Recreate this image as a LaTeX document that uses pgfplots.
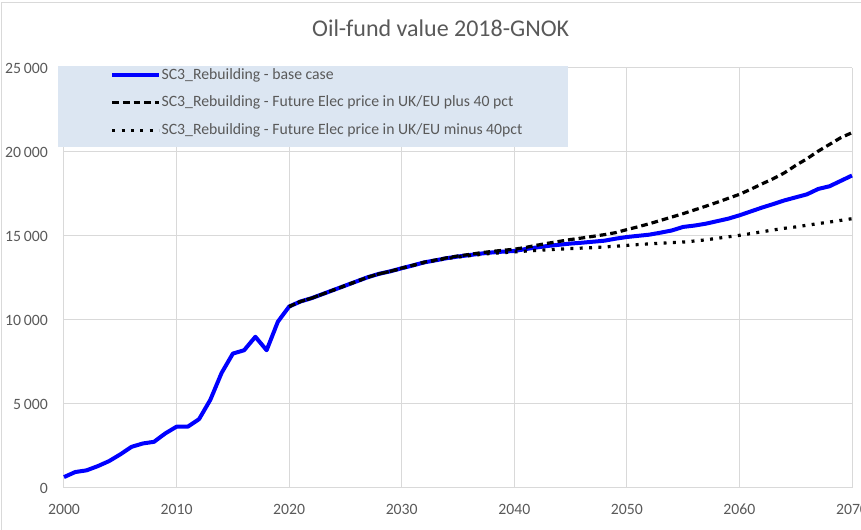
\documentclass[border=0pt]{standalone}
\usepackage{fontspec}
\setmainfont{Carlito}
\usepackage{pgfplots}
\pgfplotsset{compat=1.18}
\definecolor{txtgray}{HTML}{595959}
\definecolor{gridgray}{HTML}{D9D9D9}
\definecolor{legfill}{HTML}{DCE6F2}

\begin{document}
\begin{tikzpicture}
\begin{axis}[
    scale only axis,
    width=591pt, height=315pt,
    xmin=2000, xmax=2070,
    ymin=0, ymax=25000,
    xtick={2000,2010,...,2070},
    ytick={0,5000,...,25000},
    scaled ticks=false,
    clip=false,
    grid=major,
    major grid style={gridgray, line width=0.75pt},
    axis line style={draw=none},
    major tick length=0pt,
    tick label style={font=\fontsize{11.8}{14}\selectfont, text=txtgray},
    /pgf/number format/assume math mode=true,
    yticklabel style={inner sep=0pt, xshift=-12pt,
        /pgf/number format/fixed, /pgf/number format/precision=0,
        /pgf/number format/1000 sep={\,}},
    xticklabel style={inner sep=0pt, yshift=-12pt,
        /pgf/number format/1000 sep={}},
    title={Oil-fund value 2018-GNOK},
    title style={at={(0.478,1.076)}, anchor=center,
        font=\fontsize{18}{21}\selectfont, text=txtgray},
    legend cell align=left,
    legend style={at={(rel axis cs:0.0584,1.007)}, anchor=north west,
        draw=none, fill=none, inner sep=0pt,
        font=\fontsize{11.8}{14}\selectfont, text=txtgray,
        nodes={inner xsep=0pt, inner ysep=2pt, text height=8.5pt, text depth=2.5pt},
        row sep=5.6pt,
        /tikz/every odd column/.append style={column sep=0.5pt}},
    legend image code/.code={\draw[#1] (0pt,0pt) -- (35pt,0pt);},
]
% legend background, drawn over the grid
\fill[legfill] (rel axis cs:-0.0076,0.8119) rectangle (rel axis cs:0.6396,1.0048);

% base case
\addplot[blue, line width=3pt, line join=round] coordinates {
(2000,650) (2001,950) (2002,1050) (2003,1300) (2004,1600) (2005,2000)
(2006,2450) (2007,2650) (2008,2750) (2009,3250) (2010,3650) (2011,3650)
(2012,4100) (2013,5250) (2014,6850) (2015,8000) (2016,8200) (2017,9000)
(2018,8200) (2019,9900) (2020,10800) (2021,11100) (2022,11300) (2023,11550)
(2024,11800) (2025,12050) (2026,12300) (2027,12550) (2028,12750) (2029,12900)
(2030,13080) (2031,13250) (2032,13430) (2033,13550) (2034,13680) (2035,13780)
(2036,13860) (2037,13950) (2038,14020) (2039,14070) (2040,14110) (2041,14220)
(2042,14320) (2043,14410) (2044,14480) (2045,14550) (2046,14600) (2047,14660)
(2048,14720) (2049,14840) (2050,14940) (2051,15010) (2052,15080) (2053,15200)
(2054,15330) (2055,15540) (2056,15620) (2057,15730) (2058,15880) (2059,16030)
(2060,16230) (2061,16460) (2062,16690) (2063,16900) (2064,17120) (2065,17300)
(2066,17480) (2067,17800) (2068,17960) (2069,18280) (2070,18600)
};
\addlegendentry{SC3\_Rebuilding - base case}

% plus 40 pct
\addplot[black, line width=2.4pt, dash pattern=on 5pt off 3pt] coordinates {
(2020,10800) (2021,11100) (2022,11300) (2023,11550) (2024,11800) (2025,12050)
(2026,12300) (2027,12550) (2028,12750) (2029,12900) (2030,13090) (2031,13260)
(2032,13440) (2033,13570) (2034,13700) (2035,13810) (2036,13900) (2037,14000)
(2038,14080) (2039,14150) (2040,14210) (2041,14320) (2042,14450) (2043,14570)
(2044,14680) (2045,14790) (2046,14880) (2047,14980) (2048,15080) (2049,15200)
(2050,15380) (2051,15550) (2052,15730) (2053,15930) (2054,16130) (2055,16330)
(2056,16550) (2057,16770) (2058,17000) (2059,17240) (2060,17480) (2061,17780)
(2062,18100) (2063,18410) (2064,18760) (2065,19200) (2066,19600) (2067,20050)
(2068,20450) (2069,20850) (2070,21150)
};
\addlegendentry{SC3\_Rebuilding - Future Elec price in UK/EU plus 40 pct}

% minus 40 pct
\addplot[black, line width=2.4pt, dash pattern=on 2.2pt off 4.8pt] coordinates {
(2020,10800) (2021,11100) (2022,11300) (2023,11550) (2024,11800) (2025,12050)
(2026,12300) (2027,12550) (2028,12750) (2029,12900) (2030,13070) (2031,13240)
(2032,13420) (2033,13540) (2034,13660) (2035,13750) (2036,13830) (2037,13900)
(2038,13970) (2039,14010) (2040,14050) (2041,14100) (2042,14140) (2043,14180)
(2044,14220) (2045,14250) (2046,14280) (2047,14310) (2048,14350) (2049,14390)
(2050,14440) (2051,14490) (2052,14530) (2053,14570) (2054,14610) (2055,14640)
(2056,14700) (2057,14770) (2058,14860) (2059,14950) (2060,15040) (2061,15140)
(2062,15250) (2063,15360) (2064,15460) (2065,15540) (2066,15640) (2067,15740)
(2068,15830) (2069,15930) (2070,16030)
};
\addlegendentry{SC3\_Rebuilding - Future Elec price in UK/EU minus 40pct}
\end{axis}
% chart area border
\draw[gridgray, line width=0.75pt] (-46.5pt,-40pt) rectangle (620pt,364.1pt);
\pgfresetboundingbox
\useasboundingbox (-48pt,-30.75pt) rectangle (597.75pt,366pt);
\end{tikzpicture}
\end{document}
